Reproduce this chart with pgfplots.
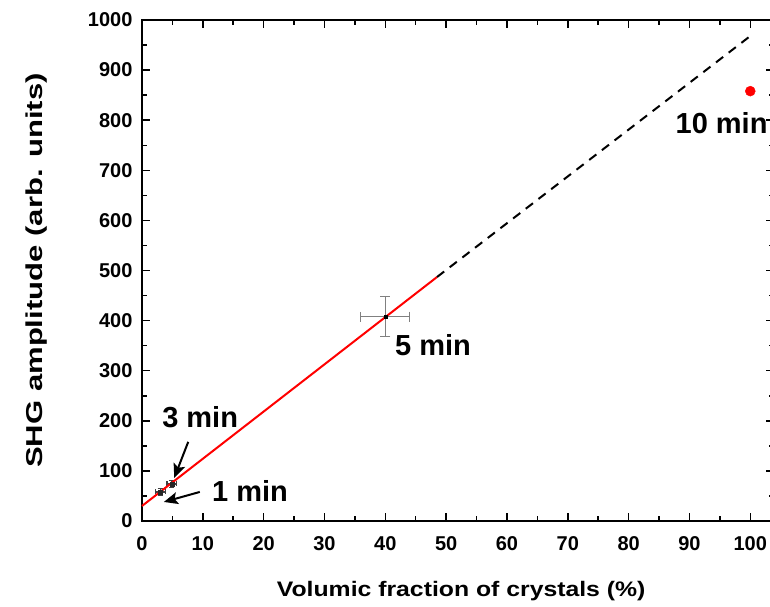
\documentclass[border=0pt]{standalone}
\usepackage{pgfplots}
\pgfplotsset{compat=1.18}
\usepackage{fontspec}
\setmainfont{Liberation Sans}
\usepackage{graphicx}
\usetikzlibrary{arrows.meta}
\begin{document}
\begin{tikzpicture}
\begin{axis}[
  at={(0,0)}, anchor=south west,
  width=632pt, height=501pt, scale only axis,
  xmin=0, xmax=103.9, ymin=0, ymax=1000,
  xtick={0,10,...,100}, ytick={0,100,...,1000},
  minor x tick num=1, minor y tick num=1,
  tick align=inside,
  major tick length=8pt, minor tick length=5pt,
  every tick/.style={black, line width=1.5pt},
  axis line style={line width=1.6pt},
  ticklabel style={font=\bfseries\fontsize{20}{24}\selectfont},
  xticklabel style={yshift=-12pt},
  yticklabel style={xshift=-6pt},
  /pgf/number format/assume math mode=true,
  /pgf/number format/1000 sep={},
  xlabel={\scalebox{1.18}[1]{\bfseries\fontsize{21}{25}\selectfont Volumic fraction of crystals (\%)}},
  xlabel style={at={(axis description cs:0.505,0)}, anchor=base, yshift=-75pt},
  ylabel={\scalebox{1.35}[1]{\bfseries\fontsize{23}{27}\selectfont SHG amplitude (arb. units)}},
  ylabel style={at={([xshift=-99pt]axis description cs:0,0.5)}, anchor=base, rotate=0},
  clip=false,
]
% 5 min with error bars
\addplot[only marks, mark=square*, mark size=1.5pt, black,
  error bars/.cd, x dir=both, x explicit, y dir=both, y explicit,
  error bar style={gray, line width=1pt},
  error mark options={gray, line width=1pt, mark size=5pt, rotate=90}]
  coordinates {(40,408) +- (4,40)};
% 1 min and 3 min
\addplot[only marks, mark=square*, mark size=2pt, black!85,
  error bars/.cd, x dir=both, x explicit, y dir=both, y explicit,
  error bar style={black!75, line width=1.2pt},
  error mark options={black!75, line width=1.2pt, mark size=2.5pt, rotate=90}]
  coordinates {(3.0,58) +- (0.8,7) (4.9,74) +- (0.8,7)};
% fit
\addplot[red, line width=2pt] coordinates {(0,30) (48.5,487)};
\addplot[black, line width=2pt, dash pattern=on 9pt off 7pt] coordinates {(48.5,487) (100,968)};
% 10 min
\addplot[only marks, mark=*, red, mark size=5pt] coordinates {(100,858)};
% annotations
\node[anchor=base west, inner sep=0pt, font=\bfseries\fontsize{29}{33}\selectfont] at (axis cs:41.6,331) {5 min};
\node[anchor=base west, inner sep=0pt, font=\bfseries\fontsize{29}{33}\selectfont] at (axis cs:3.3,186) {3 min};
\node[anchor=base west, inner sep=0pt, font=\bfseries\fontsize{29}{33}\selectfont] at (axis cs:11.5,38) {1 min};
\node[anchor=base west, inner sep=0pt, font=\bfseries\fontsize{29}{33}\selectfont] at (axis cs:87.7,774) {10 min};
\draw[line width=2pt, -{Stealth[length=14pt,width=12pt,inset=3pt]}] (axis cs:7.6,158) -- (axis cs:5.3,86);
\draw[line width=2pt, -{Stealth[length=14pt,width=12pt,inset=3pt]}] (axis cs:9.5,58) -- (axis cs:3.6,38);
\end{axis}
\pgfresetboundingbox
\path[use as bounding box] (-142pt,-85pt) rectangle (628pt,521pt);
\end{tikzpicture}
\end{document}
